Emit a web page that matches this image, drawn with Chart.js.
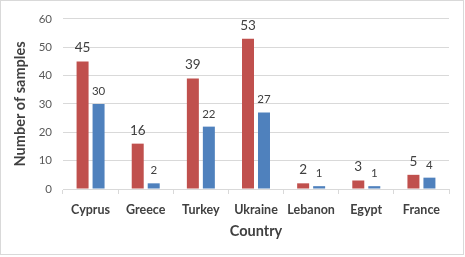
<!DOCTYPE html>
<html><head><meta charset="utf-8">
<script src="https://cdn.jsdelivr.net/npm/chart.js@4"></script>
<style>
html,body{margin:0;padding:0;background:#fff;}
#wrap{position:absolute;left:0;top:0;width:462px;height:253px;border:1px solid #d9d9d9;}
</style></head>
<body>
<div id="wrap"><canvas id="c" width="462" height="253"></canvas></div>
<script>
const categories = ["Cyprus","Greece","Turkey","Ukraine","Lebanon","Egypt","France"];
const seriesA = [45,16,39,53,2,3,5];
const seriesB = [30,2,22,27,1,1,4];
const yTicks = [0,10,20,30,40,50,60];

const FONT = 'Lato, "Open Sans", sans-serif';
const labelPlugin = {
  id:'labels',
  afterDatasetsDraw(chart){
    const ctx = chart.ctx;
    ctx.save();
    ctx.textAlign='center';
    ctx.textBaseline='alphabetic';
    ctx.fillStyle='#404040';
    chart.data.datasets.forEach((ds,i)=>{
      const meta = chart.getDatasetMeta(i);
      ctx.font = (i===0? '13.5px ' : '11.5px ') + FONT;
      meta.data.forEach((el,j)=>{
        ctx.fillText(String(ds.data[j]), el.x, el.y - 9);
      });
    });
    ctx.restore();
  }
};

new Chart(document.getElementById('c'),{
  type:'bar',
  data:{labels:categories,datasets:[
    {data:seriesA,backgroundColor:'#C0504D',categoryPercentage:0.58,barPercentage:0.75},
    {data:seriesB,backgroundColor:'#4F81BD',categoryPercentage:0.58,barPercentage:0.75}
  ]},
  options:{
    responsive:false,animation:false,
    layout:{padding:{left:0,right:14,top:13,bottom:0}},
    plugins:{legend:{display:false},tooltip:{enabled:false}},
    scales:{
      x:{
        afterFit(axis){axis.height = 65;},
        grid:{display:true,drawOnChartArea:false,drawTicks:true,tickLength:5,color:'#d9d9d9',offset:true},
        border:{display:true,color:'#d9d9d9'},
        ticks:{color:'#404040',font:{family:FONT,size:12.5,weight:'bold'},padding:8,maxRotation:0,minRotation:0,autoSkip:false},
        title:{display:true,text:'Country',color:'#404040',font:{family:FONT,size:14.5,weight:'bold'},padding:{top:4,bottom:14}}
      },
      y:{
        min:0,max:60,
        afterFit(axis){axis.width = 62;},
        afterBuildTicks(axis){axis.ticks = yTicks.map(v=>({value:v}));},
        grid:{color:'#d9d9d9',drawTicks:false},
        border:{display:false},
        ticks:{color:'#595959',font:{family:FONT,size:11.5},padding:11},
        title:{display:true,text:'Number of samples',color:'#404040',font:{family:FONT,size:14.5,weight:'bold'},padding:{top:11,bottom:0}}
      }
    }
  },
  plugins:[labelPlugin]
});
</script>
</body></html>
